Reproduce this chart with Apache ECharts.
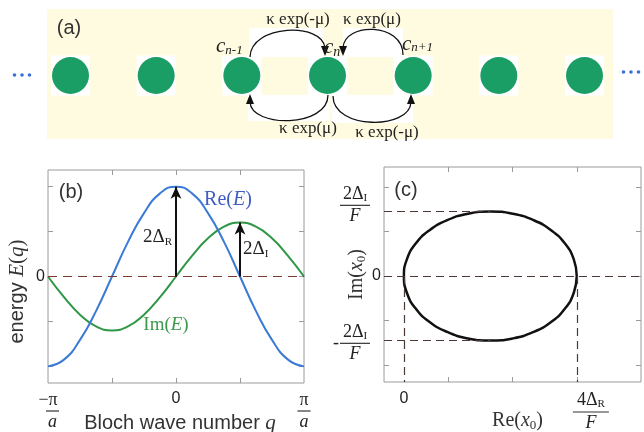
<!DOCTYPE html>
<html><head><meta charset="utf-8">
<script src="https://cdn.jsdelivr.net/npm/echarts@6/dist/echarts.min.js"></script>
<style>html,body{margin:0;padding:0;background:#fff}#c{width:644px;height:432px}</style>
</head><body><div id="c"></div>
<script>
// ---------- data ----------
// panel (a): lattice sites (site index relative to n)
const sites = [-3, -2, -1, 0, 1, 2, 3];
// panel (b): Bloch wave number q (in units of pi/a) and energies
const qValues = [-1, -0.875, -0.75, -0.625, -0.5, -0.375, -0.25, -0.125, 0, 0.125, 0.25, 0.375, 0.5, 0.625, 0.75, 0.875, 1];
const reE = [-2, -1.85, -1.41, -0.77, 0, 0.77, 1.41, 1.85, 2, 1.85, 1.41, 0.77, 0, -0.77, -1.41, -1.85, -2];
const imE = [0, -0.46, -0.85, -1.11, -1.2, -1.11, -0.85, -0.46, 0, 0.46, 0.85, 1.11, 1.2, 1.11, 0.85, 0.46, 0];
const arrowR = [0, 2];      // q, height of 2ΔR arrow
const arrowI = [0.5, 1.2];  // q, height of 2ΔI arrow
const bTicksX = [-0.5, 0, 0.5];
const bTicksY = [-2, -1, 0, 1, 2];
const bLabelsX = [-1, 0, 1];
const bLabelsY = [0];
// panel (c): trajectory of x0 in complex plane
const ellipseRe = [3.00, 2.954, 2.82, 2.606, 2.328, 2.003, 1.655, 1.307, 0.983, 0.704, 0.49, 0.356, 0.31, 0.356, 0.49, 0.704, 0.983, 1.307, 1.655, 2.003, 2.328, 2.606, 2.82, 2.954, 3.00];
const ellipseIm = [0, 0.375, 0.725, 1.025, 1.256, 1.401, 1.45, 1.401, 1.256, 1.025, 0.725, 0.375, 0, -0.375, -0.725, -1.025, -1.256, -1.401, -1.45, -1.401, -1.256, -1.025, -0.725, -0.375, 0];
const cZeroRe = 0.31, cMaxRe = 3.0, cMidRe = 1.655, cImTop = 1.45;
const cTicksX = [1, 2, 3];
const cTicksY = [-2, -1, 0, 1, 2];
const cLabelsX = [0.31, 3.22];
const cLabelsY = [1.6, 0, -1.5];

// ---------- style ----------
const SERIF = 'Liberation Serif', SANS = 'Liberation Sans';
const ink = '#222';
const green = '#1b9e66', yellow = '#fffbe0';
const reColor = '#3b7bd6', imColor = '#2f9645';
const axisGray = '#9a9a9a';

const rich = {
  n:   {fontFamily: SERIF, fontSize: 18, color: ink, align: 'center'},
  ni:  {fontFamily: SERIF, fontSize: 18, fontStyle: 'italic', color: ink, align: 'center'},
  sub: {fontFamily: SERIF, fontSize: 11, color: ink, align: 'center', padding: [8, 0, 0, 0]},
  bar: {width: 13, height: 1.2, lineHeight: 4, fontSize: 4, backgroundColor: '#333', align: 'center'},
  bar2:{width: 36, height: 1.2, lineHeight: 4, fontSize: 4, backgroundColor: '#333', align: 'center'},
  bar3:{width: 30, height: 1.2, lineHeight: 4, fontSize: 4, backgroundColor: '#333', align: 'center'},
  sp:  {width: 9, fontSize: 4, lineHeight: 4, align: 'center'},
  sp8: {width: 8, fontSize: 4, align: 'center'},
  m:   {fontFamily: SERIF, fontSize: 18, width: 8, lineHeight: 4, color: ink, align: 'center'},
  rs:  {width: 11, fontSize: 4, align: 'center'},
  z:   {fontFamily: SANS, fontSize: 16, color: ink, align: 'center'},
  s:   {fontFamily: SANS, fontSize: 20, color: '#333'},
  si:  {fontFamily: SERIF, fontSize: 21, fontStyle: 'italic', color: '#333'},
  sr:  {fontFamily: SERIF, fontSize: 21, color: '#333'},
  nr:  {fontFamily: SERIF, fontSize: 20, color: '#333'},
  nri: {fontFamily: SERIF, fontSize: 20, fontStyle: 'italic', color: '#333'},
  nsub:{fontFamily: SERIF, fontSize: 13, color: '#333', padding: [9, 0, 0, 0]}
};

function tickAxis(grid, pos, min, max, ticks, extra) {
  return Object.assign({
    gridIndex: grid, type: 'value', position: pos, min: min, max: max,
    axisLine: {show: false, onZero: false},
    axisTick: {show: true, inside: true, length: 5, customValues: ticks, lineStyle: {color: axisGray, width: 1}},
    axisLabel: {show: false},
    splitLine: {show: false},
    nameMoveOverlap: false
  }, extra || {});
}

const bxLabel = v => v === -1 ? '{n|−π}\n{sp| }{bar| }\n{sp| }{ni|a}'
                 : v === 1 ? '{n|π}\n{bar| }\n{ni|a}' : '{z|0}';
const cxLabel = v => v < 1 ? '{z|0}' : '{n|4Δ}{sub|R}\n{bar2| }\n{ni|F}';
const cyLabel = v => v === 0 ? '{z|0}'
                 : v > 0 ? '{n|2Δ}{sub|I}{rs| }\n{bar3| }{rs| }\n{ni|F}{rs| }'
                 : '{sp8| }{n|2Δ}{sub|I}{rs| }\n{m|-}{bar3| }{rs| }\n{sp8| }{ni|F}{rs| }';

const dash = {type: [8, 5], width: 1.2, color: '#4a3a36'};

const option = {
  animation: false,
  backgroundColor: '#fff',
  textStyle: {fontFamily: SANS},
  grid: [
    {left: 70.5, width: 514, top: 55, height: 41, show: false, outerBoundsMode: 'none', containLabel: false},
    {left: 48, top: 170, width: 256, height: 213, show: true, borderColor: axisGray, borderWidth: 1, outerBoundsMode: 'none', containLabel: false},
    {left: 384, top: 167, width: 257, height: 215, show: true, borderColor: axisGray, borderWidth: 1, outerBoundsMode: 'none', containLabel: false}
  ],
  xAxis: [
    {gridIndex: 0, type: 'value', min: -3, max: 3, show: false},
    tickAxis(1, 'bottom', -1, 1, bTicksX, {
      axisLabel: {show: true, customValues: bLabelsX, margin: 8, formatter: bxLabel, rich: rich},
      name: '{s|Bloch wave number }{si|q}', nameLocation: 'middle', nameGap: 30,
      nameTextStyle: {rich: rich, verticalAlign: 'top', padding: [0, 0, 0, 8]}
    }),
    tickAxis(1, 'top', -1, 1, bTicksX),
    tickAxis(2, 'bottom', 0, 4, cTicksX, {
      axisLabel: {show: true, customValues: cLabelsX, margin: 9, formatter: cxLabel, rich: rich},
      name: '{nr|Re(}{nri|x}{nsub|0}{nr|)}', nameLocation: 'middle', nameGap: 28,
      nameTextStyle: {rich: rich, verticalAlign: 'top', padding: [0, 0, 0, 10]}
    }),
    tickAxis(2, 'top', 0, 4, cTicksX)
  ],
  yAxis: [
    {gridIndex: 0, type: 'value', min: -1, max: 1, show: false},
    tickAxis(1, 'left', -2.37, 2.37, bTicksY, {
      axisLabel: {show: true, customValues: bLabelsY, margin: 3, formatter: () => '{z|0}', rich: rich},
      name: '{s|energy }{si|E}{sr|(}{si|q}{sr|)}', nameLocation: 'middle', nameGap: 20, nameRotate: 90,
      nameTextStyle: {rich: rich, padding: [0, 30, 0, 0]}
    }),
    tickAxis(1, 'right', -2.37, 2.37, bTicksY),
    tickAxis(2, 'left', -2.38, 2.45, cTicksY, {
      axisLabel: {show: true, customValues: cLabelsY, margin: 3, formatter: cyLabel, rich: rich},
      name: '{nr|Im(}{nri|x}{nsub|0}{nr|)}', nameLocation: 'middle', nameGap: 16, nameRotate: 90,
      nameTextStyle: {rich: rich}
    }),
    tickAxis(2, 'right', -2.38, 2.45, cTicksY)
  ],
  series: [
    {type: 'scatter', xAxisIndex: 0, yAxisIndex: 0, silent: true, clip: false, z: 1,
     symbol: 'rect', symbolSize: [39, 40], itemStyle: {color: '#fff', opacity: 1},
     data: sites.map(s => [s, 0])},
    {type: 'scatter', xAxisIndex: 0, yAxisIndex: 0, silent: true, clip: false, z: 2,
     symbol: 'circle', symbolSize: [37, 37], itemStyle: {color: green, opacity: 1},
     data: sites.map(s => [s, 0])},
    {type: 'line', xAxisIndex: 1, yAxisIndex: 1, smooth: true, showSymbol: false, silent: true,
     lineStyle: {color: imColor, width: 2}, z: 3,
     data: qValues.map((q, i) => [q, imE[i]]),
     markLine: {silent: true, symbol: 'none', animation: false, label: {show: false},
       lineStyle: {type: [9, 6], width: 1.2, color: '#7a3b2e'}, data: [{yAxis: 0}]}},
    {type: 'line', xAxisIndex: 1, yAxisIndex: 1, smooth: true, showSymbol: false, silent: true,
     lineStyle: {color: reColor, width: 2}, z: 3,
     data: qValues.map((q, i) => [q, reE[i]]),
     markLine: {silent: true, symbol: ['none', 'arrow'], symbolSize: [8, 12], animation: false,
       label: {show: false}, lineStyle: {type: 'solid', width: 2, color: '#111'},
       data: [
         [{coord: [arrowR[0], 0]}, {coord: [arrowR[0], arrowR[1]]}],
         [{coord: [arrowI[0], 0]}, {coord: [arrowI[0], arrowI[1]]}]
       ]}},
    {type: 'line', xAxisIndex: 3, yAxisIndex: 3, smooth: true, showSymbol: false, silent: true,
     lineStyle: {color: '#111', width: 2.5}, z: 3,
     data: ellipseRe.map((x, i) => [x, ellipseIm[i]]),
     markLine: {silent: true, symbol: 'none', animation: false, label: {show: false},
       lineStyle: dash,
       data: [
         {yAxis: 0},
         [{coord: [0, cImTop]}, {coord: [cMidRe, cImTop]}],
         [{coord: [0, -cImTop]}, {coord: [cMidRe, -cImTop]}],
         [{coord: [cZeroRe, 0]}, {coord: [cZeroRe, -2.38]}],
         [{coord: [cMaxRe, 0]}, {coord: [cMaxRe, -2.38]}]
       ]}}
  ],
  graphic: [
    // panel (a) background
    {type: 'rect', z: -10, silent: true, shape: {x: 47, y: 9, width: 566, height: 130}, style: {fill: yellow}},
    {type: 'rect', z: -9, silent: true, shape: {x: 249, y: 28, width: 74, height: 29}, style: {fill: '#fff'}},
    {type: 'rect', z: -9, silent: true, shape: {x: 343, y: 28, width: 60, height: 29}, style: {fill: '#fff'}},
    {type: 'rect', z: -9, silent: true, shape: {x: 248, y: 95, width: 82, height: 26}, style: {fill: '#fff'}},
    {type: 'rect', z: -9, silent: true, shape: {x: 332, y: 95, width: 81, height: 28}, style: {fill: '#fff'}},
    // dots
    ...[14.5, 22, 29.5].map(x => ({type: 'circle', z: 5, silent: true, shape: {cx: x, cy: 75, r: 1.8}, style: {fill: '#3a6fd8'}})),
    ...[623.5, 631, 638.5].map(x => ({type: 'circle', z: 5, silent: true, shape: {cx: x, cy: 72, r: 1.8}, style: {fill: '#3a6fd8'}})),
    // hopping arcs
    {type: 'bezierCurve', z: 50, silent: true, shape: {x1: 250, y1: 57, cpx1: 251, cpy1: 24, cpx2: 323, cpy2: 22, x2: 325, y2: 48}, style: {stroke: '#111', lineWidth: 1.3, fill: null}},
    {type: 'polygon', z: 50, silent: true, shape: {points: [[321, 46], [329, 46], [325, 56]]}, style: {fill: '#111'}},
    {type: 'bezierCurve', z: 50, silent: true, shape: {x1: 403, y1: 55, cpx1: 403, cpy1: 22, cpx2: 344, cpy2: 22, x2: 343, y2: 48}, style: {stroke: '#111', lineWidth: 1.3, fill: null}},
    {type: 'polygon', z: 50, silent: true, shape: {points: [[339, 46], [347, 46], [343, 56]]}, style: {fill: '#111'}},
    {type: 'bezierCurve', z: 50, silent: true, shape: {x1: 328, y1: 95, cpx1: 328, cpy1: 128, cpx2: 251, cpy2: 128, x2: 250, y2: 102}, style: {stroke: '#111', lineWidth: 1.3, fill: null}},
    {type: 'polygon', z: 50, silent: true, shape: {points: [[246, 104], [254, 104], [250, 94]]}, style: {fill: '#111'}},
    {type: 'bezierCurve', z: 50, silent: true, shape: {x1: 333, y1: 96, cpx1: 333, cpy1: 130, cpx2: 410, cpy2: 130, x2: 411, y2: 102}, style: {stroke: '#111', lineWidth: 1.3, fill: null}},
    {type: 'polygon', z: 50, silent: true, shape: {points: [[407, 104], [415, 104], [411, 94]]}, style: {fill: '#111'}},
    // panel (a) texts
    {type: 'text', z: 60, silent: true, x: 69, y: 28, style: {text: '(a)', font: '20px ' + SANS, fill: '#333', align: 'center', verticalAlign: 'middle'}},
    {type: 'text', z: 60, silent: true, x: 298, y: 20, style: {text: 'κ exp(-μ)', font: '17px ' + SERIF, fill: ink, align: 'center', verticalAlign: 'middle'}},
    {type: 'text', z: 60, silent: true, x: 372, y: 20, style: {text: 'κ exp(μ)', font: '17px ' + SERIF, fill: ink, align: 'center', verticalAlign: 'middle'}},
    {type: 'text', z: 60, silent: true, x: 308, y: 129, style: {text: 'κ exp(μ)', font: '17px ' + SERIF, fill: ink, align: 'center', verticalAlign: 'middle'}},
    {type: 'text', z: 60, silent: true, x: 387, y: 133, style: {text: 'κ exp(-μ)', font: '17px ' + SERIF, fill: ink, align: 'center', verticalAlign: 'middle'}},
    {type: 'text', z: 60, silent: true, x: 216, y: 46, style: {text: '{c|c}{s|n-1}', align: 'left', verticalAlign: 'middle',
      rich: {c: {fontFamily: SERIF, fontStyle: 'italic', fontSize: 21, fill: ink}, s: {fontFamily: SERIF, fontStyle: 'italic', fontSize: 13, fill: ink, padding: [9, 0, 0, 0]}}}},
    {type: 'text', z: 60, silent: true, x: 324, y: 47, style: {text: '{c|c}{s|n}', align: 'left', verticalAlign: 'middle',
      rich: {c: {fontFamily: SERIF, fontStyle: 'italic', fontSize: 21, fill: ink}, s: {fontFamily: SERIF, fontStyle: 'italic', fontSize: 14, fill: ink, padding: [11, 0, 0, 0]}}}},
    {type: 'text', z: 60, silent: true, x: 402, y: 44, style: {text: '{c|c}{s|n+1}', align: 'left', verticalAlign: 'middle',
      rich: {c: {fontFamily: SERIF, fontStyle: 'italic', fontSize: 21, fill: ink}, s: {fontFamily: SERIF, fontStyle: 'italic', fontSize: 13, fill: ink, padding: [7, 0, 0, 0]}}}},
    // panel (b) texts
    {type: 'text', z: 60, silent: true, x: 71, y: 192, style: {text: '(b)', font: '20px ' + SANS, fill: '#333', align: 'center', verticalAlign: 'middle'}},
    {type: 'text', z: 60, silent: true, x: 228, y: 200, style: {text: '{a|Re(}{b|E}{a|)}', align: 'center', verticalAlign: 'middle',
      rich: {a: {fontFamily: SERIF, fontSize: 20, fill: '#3f5dc4'}, b: {fontFamily: SERIF, fontStyle: 'italic', fontSize: 20, fill: '#3f5dc4'}}}},
    {type: 'text', z: 60, silent: true, x: 166, y: 325, style: {text: '{a|Im(}{b|E}{a|)}', align: 'center', verticalAlign: 'middle',
      rich: {a: {fontFamily: SERIF, fontSize: 19, fill: '#3c9a4c'}, b: {fontFamily: SERIF, fontStyle: 'italic', fontSize: 19, fill: '#3c9a4c'}}}},
    {type: 'text', z: 60, silent: true, x: 143, y: 237, style: {text: '{a|2Δ}{s|R}', align: 'left', verticalAlign: 'middle',
      rich: {a: {fontFamily: SERIF, fontSize: 19, fill: ink}, s: {fontFamily: SERIF, fontSize: 11, fill: ink, padding: [10, 0, 0, 0]}}}},
    {type: 'text', z: 60, silent: true, x: 243, y: 249, style: {text: '{a|2Δ}{s|I}', align: 'left', verticalAlign: 'middle',
      rich: {a: {fontFamily: SERIF, fontSize: 19, fill: ink}, s: {fontFamily: SERIF, fontSize: 11, fill: ink, padding: [10, 0, 0, 0]}}}},
    // panel (c) text
    {type: 'text', z: 60, silent: true, x: 406, y: 190, style: {text: '(c)', font: '20px ' + SANS, fill: '#333', align: 'center', verticalAlign: 'middle'}}
  ]
};
echarts.init(document.getElementById('c')).setOption(option);
</script></body></html>
